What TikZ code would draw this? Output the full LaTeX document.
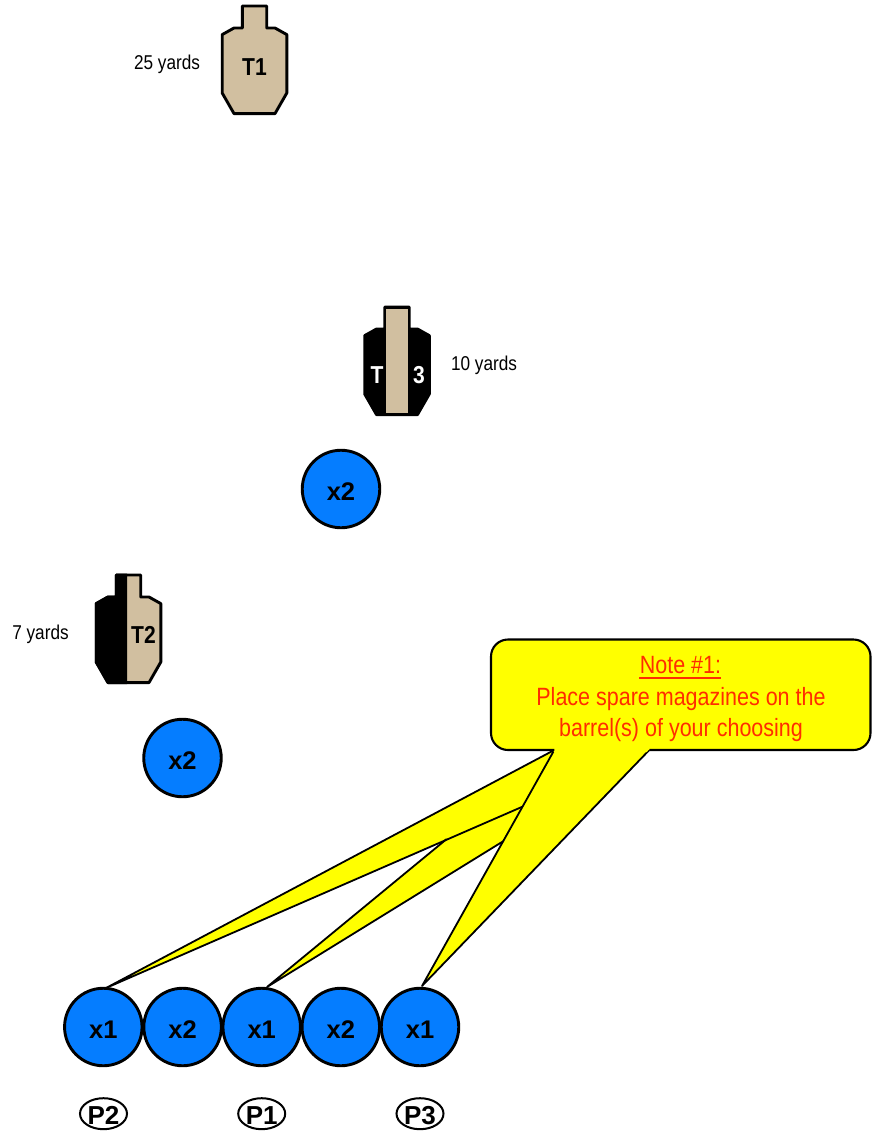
\documentclass[tikz,border=0pt]{standalone}
\usepackage{fontspec}
\setmainfont{Liberation Sans}
\newfontfamily\narrowfont[FakeStretch=0.86]{Liberation Sans}
\definecolor{tan}{RGB}{209,191,160}
\definecolor{disc}{RGB}{5,125,255}
\definecolor{notered}{RGB}{255,45,0}
\definecolor{noteyellow}{RGB}{255,255,0}
\newcommand{\targetoutline}[2]{
  ++(#1-12.2,#2) -- ++(0,22) -- ++(-8.3,0) -- ++(-11.8,6.6) -- ++(0,58.4) -- ++(11.8,20.6)
  -- ++(41,0) -- ++(11.8,-20.6) -- ++(0,-58.4) -- ++(-11.8,-6.6) -- ++(-8.3,0) -- ++(0,-22) -- cycle}
\tikzset{
  x=1pt,y=-1pt,
  target/.style={draw=black,line width=2.9pt,line join=round},
  barrel/.style={circle,draw=black,fill=disc,line width=2.9pt,minimum size=77.5pt,inner sep=0pt},
  barreltext/.style={anchor=base,inner sep=0pt,font=\fontsize{25.5}{25.5}\selectfont\bfseries},
  yardage/.style={anchor=base,inner sep=0pt,font=\fontsize{20}{20}\selectfont\narrowfont},
  tlabel/.style={anchor=base,inner sep=0pt,font=\fontsize{24.5}{24.5}\selectfont\narrowfont\bfseries},
  position/.style={ellipse,draw=black,fill=white,line width=2pt,minimum width=47pt,minimum height=31pt,inner sep=0pt},
  postext/.style={anchor=base,inner sep=0pt,font=\fontsize{26}{26}\selectfont\bfseries},
  notetext/.style={anchor=base,inner sep=0pt,text=notered,font=\fontsize{25}{25}\selectfont\narrowfont},
  calloutline/.style={draw=black,line width=2.1pt,line join=round},
  tailline/.style={draw=black,line width=1.8pt,line join=round}
}
\usetikzlibrary{shapes.geometric}
\begin{document}
\begin{tikzpicture}
\useasboundingbox (0,0) rectangle (872,1133);
% T1
\draw[target,fill=tan] (0,0) \targetoutline{254.5}{6};
\node[tlabel] (t1) at (254.5,75) {T1};
\node[yardage] (y25) at (167,69) {25 yards};
% T3
\draw[target,fill=black] (0,0) \targetoutline{397}{307};
\fill[tan] (386.3,309) rectangle (408,413);
\node[tlabel,text=white] (t3a) at (377,383.5) {T};
\node[tlabel,text=white] (t3b) at (419,383.5) {3};
\node[yardage] (y10) at (484,370) {10 yards};
% T2
\draw[target,fill=tan] (0,0) \targetoutline{128.5}{575};
\begin{scope}
  \clip (80,560) rectangle (127,700);
  \draw[target,fill=black] (0,0) \targetoutline{128.5}{575};
\end{scope}
\node[tlabel] (t2) at (143.5,643.5) {T2};
\node[yardage] (y7) at (40.5,639) {7 yards};
% callout
\coordinate (tipA) at (106,988);
\coordinate (tipB) at (267,987);
\coordinate (tipC) at (422,986);
\coordinate (rootL) at (554.3,750);
\coordinate (rootR) at (649.3,750);
\coordinate (joinB) at (446.7,839);
\coordinate (joinC) at (503.6,841);
\coordinate (joinA) at (522.4,806.7);
\fill[noteyellow] (rootL) -- (tipA) -- (joinB) -- (tipB) -- (joinC) -- (tipC) -- (rootR) -- cycle;
\draw[tailline] (rootL) -- (tipA) -- (joinA);
\draw[tailline] (joinB) -- (tipB) -- (joinC);
\draw[tailline] (rootL) -- (tipC) -- (rootR);
\fill[noteyellow,rounded corners=17pt] (491,639.5) rectangle (870.5,750);
\draw[calloutline,rounded corners=17pt] (554.3,750) -- (491,750) -- (491,639.5) -- (870.5,639.5) -- (870.5,750) -- (649.3,750);
\fill[noteyellow] (556,748) -- (649.5,748) -- (647,752) -- (553.5,752) -- cycle;
\node[notetext] (note1) at (680.5,673.3) {Note \#1:};
\draw[notered,line width=2pt] (639.3,678) -- (721,678);
\node[notetext] (note2) at (681,705) {Place spare magazines on the};
\node[notetext] (note3) at (681,736.7) {barrel(s) of your choosing};
% barrels
\node[barrel] (c1) at (341,489) {};
\node[barreltext] at (341,500) {x2};
\node[barrel] (c2) at (182.5,758) {};
\node[barreltext] at (182.5,769) {x2};
\node[barrel] (b1) at (103.3,1027) {};
\node[barrel] (b2) at (182.6,1027) {};
\node[barrel] (b3) at (261.7,1027) {};
\node[barrel] (b4) at (340.8,1027) {};
\node[barrel] (b5) at (420,1027) {};
\foreach \cx/\lab in {103.3/x1,182.6/x2,261.7/x1,340.8/x2,420/x1}
  \node[barreltext] at (\cx,1038.3) {\lab};
% positions
\foreach \cx/\lab in {103.5/P2,261.7/P1,420/P3}{
  \node[position] at (\cx,1113.7) {};
  \node[postext] at (\cx,1124.5) {\lab};
}
\end{tikzpicture}
\end{document}
